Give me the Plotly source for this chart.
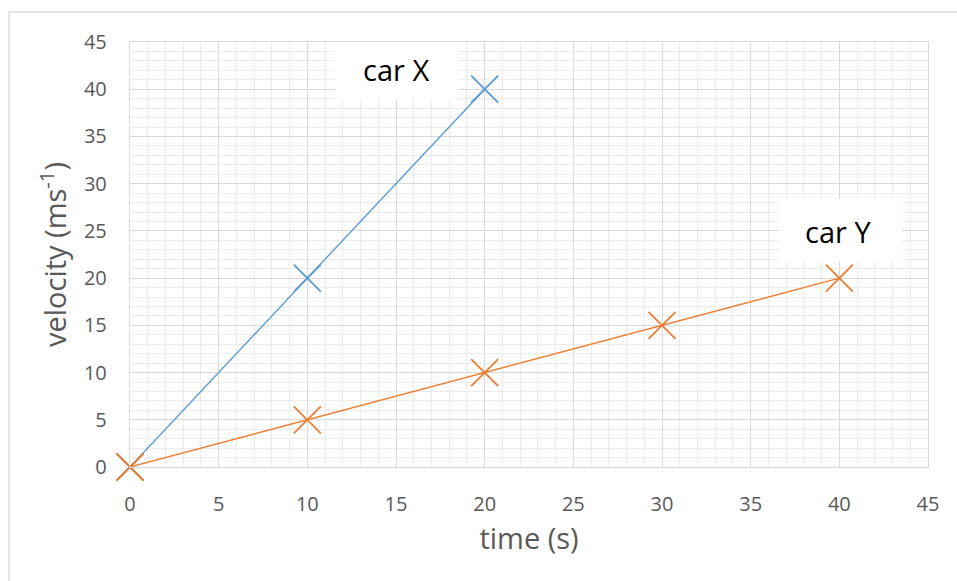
import plotly.graph_objects as go

# Data
time_x = [0, 10, 20]
vel_x = [0, 20, 40]
time_y = [0, 10, 20, 30, 40]
vel_y = [0, 5, 10, 15, 20]
labels = ["car X", "car Y"]
label_pos_x = [15.0, 39.9]
label_pos_y = [42.1, 24.9]

BLUE = "#5B9BD5"
ORANGE = "#ED7D31"
FONT = "Open Sans"

fig = go.Figure()
fig.add_trace(go.Scatter(
    x=time_x, y=vel_x, mode="lines+markers", name="car X", cliponaxis=False,
    line=dict(color=BLUE, width=1.4),
    marker=dict(symbol="x-thin-open", size=27, line=dict(color=BLUE, width=1.8), color=BLUE),
))
fig.add_trace(go.Scatter(
    x=time_y, y=vel_y, mode="lines+markers", name="car Y", cliponaxis=False,
    line=dict(color=ORANGE, width=1.4),
    marker=dict(symbol="x-thin-open", size=27, line=dict(color=ORANGE, width=1.8), color=ORANGE),
))

# white label boxes
boxes = [(11.56, 18.5, 38.9, 45.0), (36.6, 43.54, 21.8, 28.4)]
for (x0, x1, y0, y1) in boxes:
    fig.add_shape(type="rect", xref="x", yref="y", x0=x0, x1=x1, y0=y0, y1=y1,
                  fillcolor="white", line=dict(width=0), layer="between")

for t, lx, ly in zip(labels, label_pos_x, label_pos_y):
    fig.add_annotation(x=lx, y=ly, xref="x", yref="y", text=t, showarrow=False,
                       font=dict(family=FONT, size=29, color="black"))

# outer chart border
fig.add_shape(type="rect", xref="paper", yref="paper",
              x0=(9 - 130) / 798, x1=(975 - 130) / 798,
              y0=(467 - 620) / 425, y1=(467 - 12) / 425,
              line=dict(color="#d9d9d9", width=1.3), fillcolor="rgba(0,0,0,0)", layer="below")

axis_common = dict(
    range=[0, 45], dtick=5, tick0=0,
    showgrid=True, gridcolor="#d9d9d9", gridwidth=1.4,
    minor=dict(dtick=1, showgrid=True, gridcolor="#ececec", gridwidth=1.4),
    showline=True, linecolor="#d9d9d9", linewidth=1.4, mirror=True,
    zeroline=False, ticks="",
    tickfont=dict(family=FONT, size=20, color="#595959"),
    fixedrange=True,
)

fig.update_xaxes(**axis_common, ticklabelstandoff=19,
                 title=dict(text="time (s)", font=dict(family=FONT, size=29, color="#595959"), standoff=12))
fig.update_yaxes(**axis_common, ticklabelstandoff=18,
                 title=dict(text="velocity (ms<sup>-1</sup>)", font=dict(family=FONT, size=29, color="#595959"), standoff=8))

fig.update_layout(
    width=957, height=581,
    margin=dict(l=130, r=29, t=42, b=114, pad=0),
    paper_bgcolor="white", plot_bgcolor="white",
    showlegend=False,
    font=dict(family=FONT),
)

fig.write_html("out.html")
